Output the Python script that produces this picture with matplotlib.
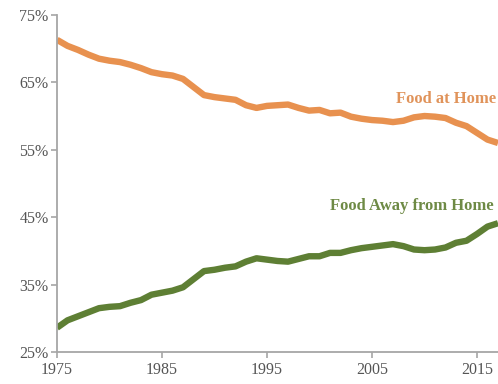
import matplotlib.pyplot as plt

years = list(range(1975, 2018))

# share of total food spending, percent
food_at_home = [71.3, 70.4, 69.8, 69.1, 68.5, 68.2, 68.0, 67.6, 67.1, 66.5,
                66.2, 66.0, 65.5, 64.3, 63.1, 62.8, 62.6, 62.4, 61.6, 61.2,
                61.5, 61.6, 61.7, 61.2, 60.8, 60.9, 60.4, 60.5, 59.9, 59.6,
                59.4, 59.3, 59.1, 59.3, 59.8, 60.0, 59.9, 59.7, 59.0, 58.5,
                57.5, 56.5, 56.0]
food_away = [28.6, 29.7, 30.3, 30.9, 31.5, 31.7, 31.8, 32.3, 32.7, 33.5,
             33.8, 34.1, 34.6, 35.8, 37.0, 37.2, 37.5, 37.7, 38.4, 38.9,
             38.7, 38.5, 38.4, 38.8, 39.2, 39.2, 39.7, 39.7, 40.1, 40.4,
             40.6, 40.8, 41.0, 40.7, 40.2, 40.1, 40.2, 40.5, 41.2, 41.5,
             42.5, 43.6, 44.1]

x_ticks = [1975, 1985, 1995, 2005, 2015]
y_ticks = [25, 35, 45, 55, 65, 75]

plt.rcParams['font.family'] = ['Liberation Serif', 'DejaVu Serif']

fig = plt.figure(figsize=(4.98, 3.84), dpi=100)
ax = fig.add_axes([0.1145, 0.0833, 0.8855, 0.878])

orange = '#E8914F'
green = '#5E7F34'
ax.plot(years, food_at_home, color=orange, linewidth=4.6, solid_capstyle='butt')
ax.plot(years, food_away, color=green, linewidth=4.6, solid_capstyle='butt')

ax.text(2016.8, 62.5, 'Food at Home', color='#E0935A', fontsize=12,
        fontweight='bold', ha='right', va='center')
ax.text(2016.6, 46.7, 'Food Away from Home', color='#6E8A45', fontsize=12,
        fontweight='bold', ha='right', va='center')

ax.set_xlim(1975, 2017)
ax.set_ylim(25, 75)
ax.set_xticks(x_ticks)
ax.set_yticks(y_ticks)
ax.set_yticklabels([f'{v}%' for v in y_ticks])

for side in ['top', 'right']:
    ax.spines[side].set_visible(False)
for side in ['left', 'bottom']:
    ax.spines[side].set_color('#A6A6A6')
    ax.spines[side].set_linewidth(1.3)

ax.tick_params(axis='both', colors='#A6A6A6', labelcolor='#555555',
               labelsize=11.5, length=4, width=1.2)
ax.tick_params(axis='y', pad=2)
ax.tick_params(axis='x', pad=3)

fig.savefig('out.png', dpi=100)
